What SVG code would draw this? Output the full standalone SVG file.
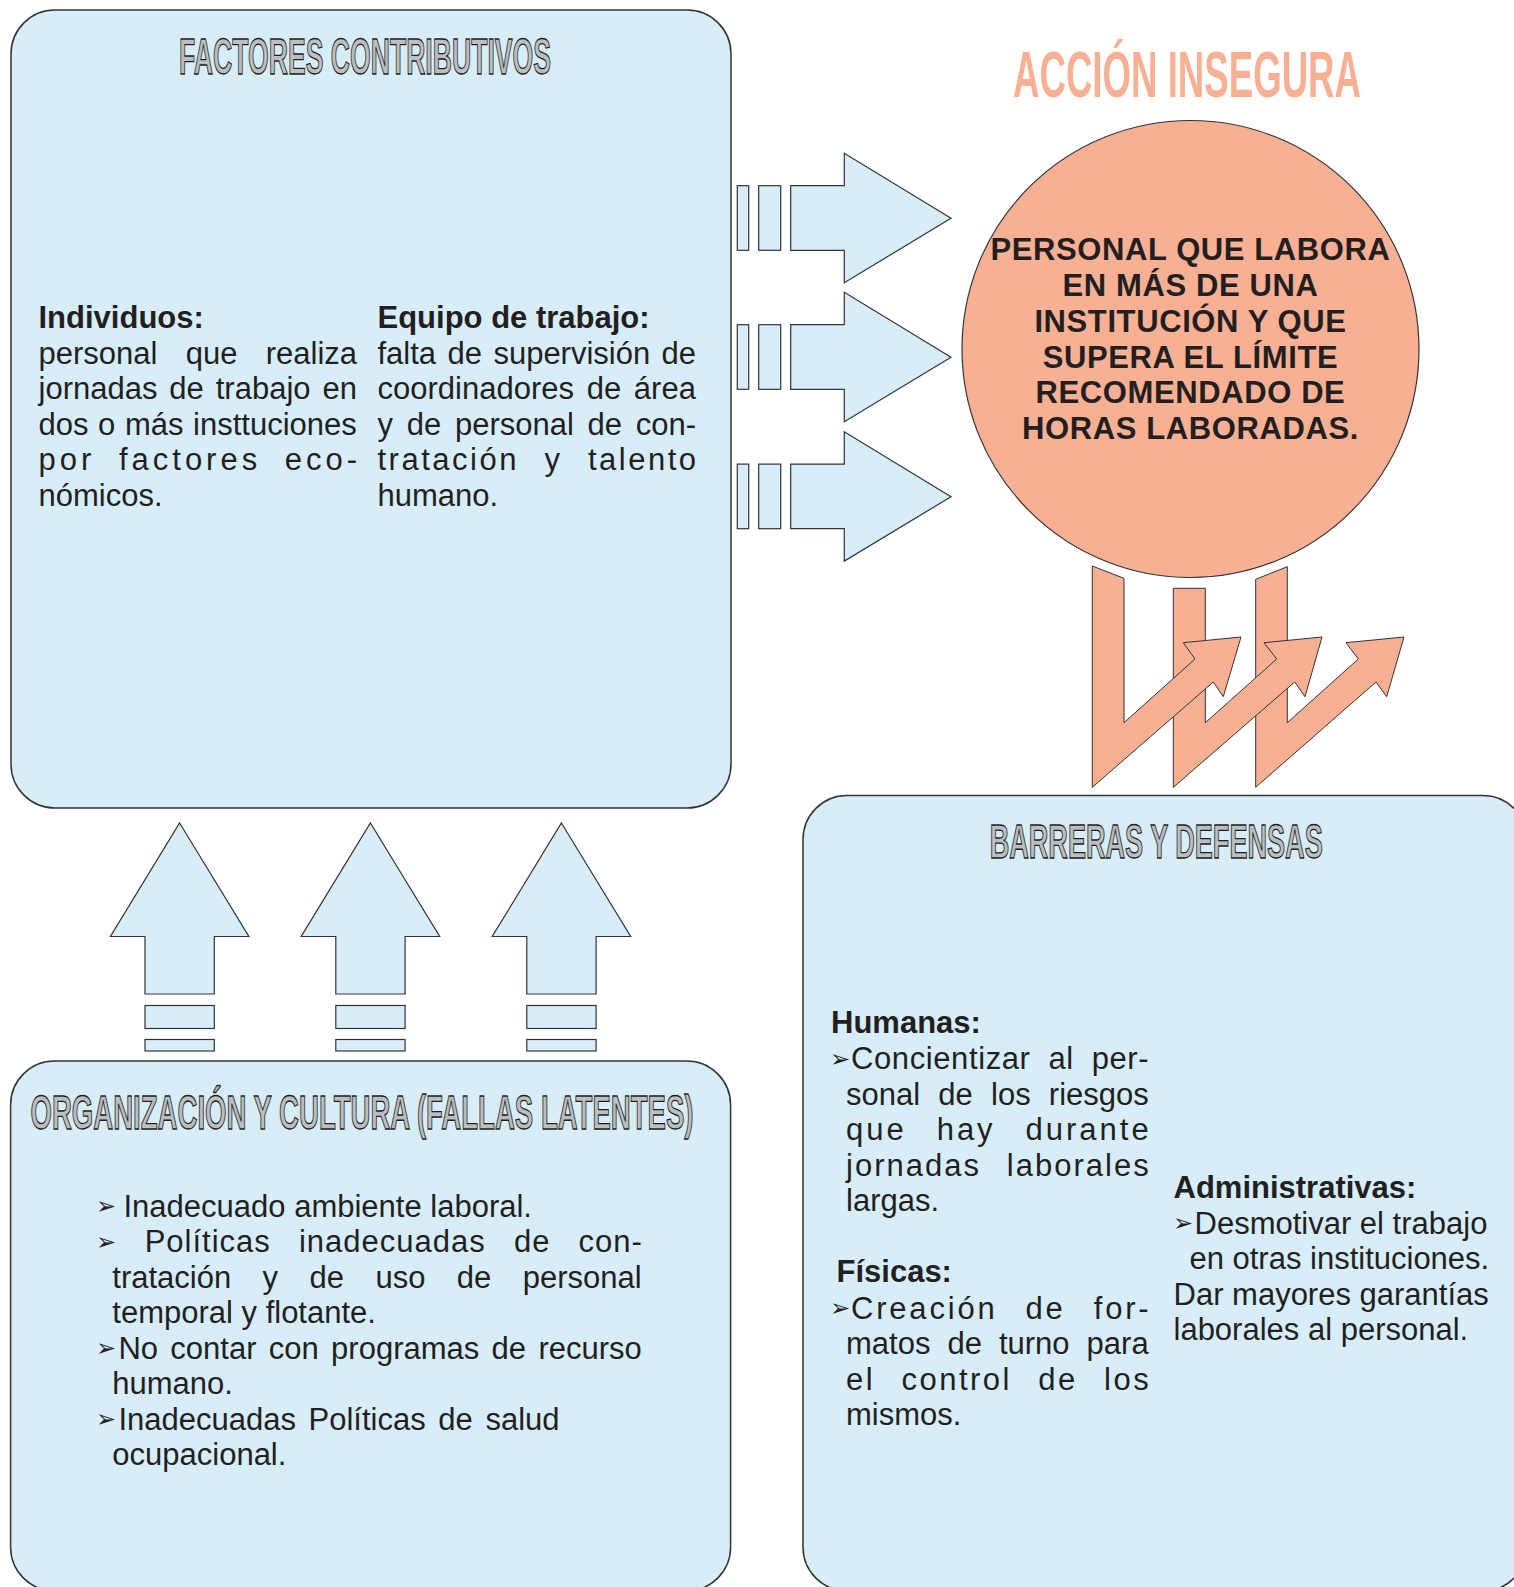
<svg xmlns="http://www.w3.org/2000/svg" width="1514" height="1587" viewBox="0 0 1514 1587">
<style>
.box{fill:#d7eefa;stroke:#333;stroke-width:1.5}
.arr{fill:#d7eefa;stroke:#333;stroke-width:1.2}
.org{fill:#f8b094;stroke:#333;stroke-width:1}
.t{font-family:"Liberation Sans",Arial,sans-serif;font-size:31px;fill:#231f20}
.b{font-weight:bold}
.bul{font-family:"DejaVu Sans",sans-serif;font-size:24px;fill:#231f20}
.ttl{font-family:"Liberation Sans",Arial,sans-serif;font-weight:bold;fill:#bcbec0;stroke:#231f20;stroke-width:1.3}
.ct{font-family:"Liberation Sans",Arial,sans-serif;font-weight:bold;font-size:31px;fill:#231f20;text-anchor:middle;letter-spacing:0.6px}
</style>
<defs>
<g id="rarrow">
<rect class="arr" x="737.3" y="185.7" width="11.4" height="64.6"/>
<rect class="arr" x="758.7" y="185.7" width="22" height="64.6"/>
<path class="arr" d="M790.7,185.7 L844.3,185.7 L844.3,153.3 L951,218.3 L844.3,282.7 L844.3,250.3 L790.7,250.3 Z"/>
</g>
<g id="uarrow">
<path class="arr" d="M179.6,823 L248.9,936.5 L214.3,936.5 L214.3,994 L145,994 L145,936.5 L110.4,936.5 Z"/>
<rect class="arr" x="145" y="1005.5" width="69.3" height="23"/>
<rect class="arr" x="145" y="1039.5" width="69.3" height="11.5"/>
</g>
</defs>

<g id="factores">
<rect class="box" x="11" y="10" width="720" height="798" rx="44"/>
<text class="ttl" x="179" y="74" font-size="50" textLength="372" lengthAdjust="spacingAndGlyphs">FACTORES CONTRIBUTIVOS</text>
<text class="t b" x="38.5" y="328">Individuos:</text>
<text class="t" x="38.5" y="363.5" word-spacing="19.7">personal que realiza</text>
<text class="t" x="38.5" y="399" word-spacing="3.3">jornadas de trabajo en</text>
<text class="t" x="38.5" y="434.5" word-spacing="1">dos o más insttuciones</text>
<text class="t" x="38.5" y="470" letter-spacing="4" word-spacing="11">por factores eco-</text>
<text class="t" x="38.5" y="505.5">nómicos.</text>
<text class="t b" x="377.5" y="328">Equipo de trabajo:</text>
<text class="t" x="377.5" y="363.5" word-spacing="2.8">falta de supervisión de</text>
<text class="t" x="377.5" y="399" word-spacing="4.1">coordinadores de área</text>
<text class="t" x="377.5" y="434.5" word-spacing="5.1">y de personal de con-</text>
<text class="t" x="377.5" y="470" letter-spacing="2.5" word-spacing="14.4">tratación y talento</text>
<text class="t" x="377.5" y="505.5">humano.</text>
</g>

<g id="accion">
<text x="1013" y="97" font-family="Liberation Sans, Arial, sans-serif" font-weight="bold" font-size="65" fill="#f8b094" textLength="348" lengthAdjust="spacingAndGlyphs">ACCIÓN INSEGURA</text>
<circle cx="1190.5" cy="349" r="228.5" fill="#f8b094" stroke="#333" stroke-width="1.2"/>
<text class="ct" x="1190.5" y="259.5">PERSONAL QUE LABORA</text>
<text class="ct" x="1190.5" y="295.5">EN MÁS DE UNA</text>
<text class="ct" x="1190.5" y="331.5">INSTITUCIÓN Y QUE</text>
<text class="ct" x="1190.5" y="367.5">SUPERA EL LÍMITE</text>
<text class="ct" x="1190.5" y="403">RECOMENDADO DE</text>
<text class="ct" x="1190.5" y="438.5">HORAS LABORADAS.</text>
</g>

<g id="organizacion">
<rect class="box" x="10.6" y="1061" width="720" height="530" rx="44"/>
<text class="ttl" x="30.5" y="1128.5" font-size="49" textLength="663" lengthAdjust="spacingAndGlyphs">ORGANIZACIÓN Y CULTURA (FALLAS LATENTES)</text>
<text class="bul" x="96" y="1214">➢</text>
<text class="t" x="123.5" y="1216.5">Inadecuado ambiente laboral.</text>
<text class="bul" x="96" y="1249.5">➢</text>
<text class="t" x="144.7" y="1252" letter-spacing="1" word-spacing="18.5">Políticas inadecuadas de con-</text>
<text class="t" x="112.3" y="1287.5" word-spacing="22.8">tratación y de uso de personal</text>
<text class="t" x="112.3" y="1323">temporal y flotante.</text>
<text class="bul" x="96" y="1356">➢</text>
<text class="t" x="118.4" y="1358.5" word-spacing="3.7">No contar con programas de recurso</text>
<text class="t" x="112.3" y="1394">humano.</text>
<text class="bul" x="96" y="1427">➢</text>
<text class="t" x="118.4" y="1429.5" word-spacing="4">Inadecuadas Políticas de salud</text>
<text class="t" x="112.3" y="1465">ocupacional.</text>
</g>

<g id="barreras">
<rect class="box" x="803" y="795.5" width="724" height="795.5" rx="44"/>
<text class="ttl" x="989.7" y="858" font-size="48" textLength="333" lengthAdjust="spacingAndGlyphs">BARRERAS Y DEFENSAS</text>
<text class="t b" x="831" y="1033">Humanas:</text>
<text class="bul" x="830" y="1066.5">➢</text>
<text class="t" x="851" y="1069" letter-spacing="0.6" word-spacing="8.7">Concientizar al per-</text>
<text class="t" x="846" y="1104.5" word-spacing="9.6">sonal de los riesgos</text>
<text class="t" x="846" y="1140" letter-spacing="3" word-spacing="18.3">que hay durante</text>
<text class="t" x="846" y="1175.5" letter-spacing="2" word-spacing="15.3">jornadas laborales</text>
<text class="t" x="846" y="1211">largas.</text>
<text class="t b" x="836.5" y="1282">Físicas:</text>
<text class="bul" x="830" y="1316">➢</text>
<text class="t" x="851" y="1318.5" letter-spacing="2.8" word-spacing="16.7">Creación de for-</text>
<text class="t" x="846" y="1354" word-spacing="8.4">matos de turno para</text>
<text class="t" x="846" y="1389.5" letter-spacing="2.5" word-spacing="15.2">el control de los</text>
<text class="t" x="846" y="1425">mismos.</text>
<text class="t b" x="1173.5" y="1198">Administrativas:</text>
<text class="bul" x="1173" y="1231">➢</text>
<text class="t" x="1194.5" y="1233.5">Desmotivar el trabajo</text>
<text class="t" x="1189.4" y="1269">en otras instituciones.</text>
<text class="t" x="1173.5" y="1304.5">Dar mayores garantías</text>
<text class="t" x="1173.5" y="1340">laborales al personal.</text>
</g>

<g id="connectors">
<use href="#rarrow"/>
<use href="#rarrow" transform="translate(0,139)"/>
<use href="#rarrow" transform="translate(0,278.4)"/>
<use href="#uarrow"/>
<use href="#uarrow" transform="translate(190.8,0)"/>
<use href="#uarrow" transform="translate(381.8,0)"/>
<path class="org" d="M1255.7,579.3 L1287.3,566.7 L1287.3,722.7 L1358.3,659 L1346,642.7 L1404,637 L1386.7,696.7 L1376,682 L1255.7,787.3 Z"/>
<path class="org" d="M1173.3,588.3 L1205.3,588.3 L1205.3,722.7 L1276.7,659 L1264,642.7 L1322,637 L1305,696.7 L1294.7,682 L1173.3,787.3 Z"/>
<path class="org" d="M1092.3,566 L1124,578.3 L1124,722.7 L1195,659 L1183.3,642.7 L1241,637 L1223.3,696.7 L1213.3,682 L1092.3,787.3 Z"/>
</g>
</svg>
